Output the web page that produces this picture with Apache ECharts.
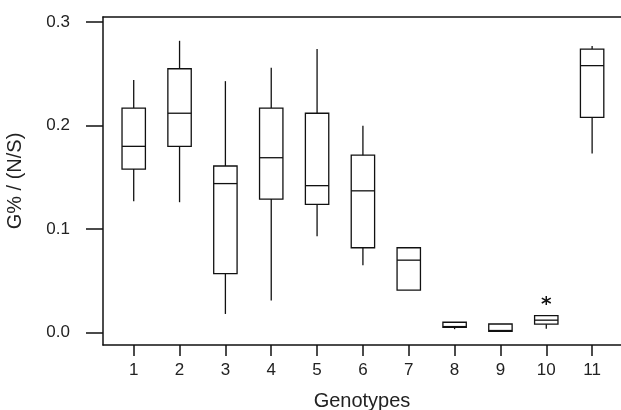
<!DOCTYPE html>
<html>
<head>
<meta charset="utf-8">
<script src="https://cdn.jsdelivr.net/npm/echarts@6/dist/echarts.min.js"></script>
<style>html,body{margin:0;padding:0;background:#fff;}#c{width:621px;height:410px;}</style>
</head>
<body>
<div id="c"></div>
<script>
var categories = [1, 2, 3, 4, 5, 6, 7, 8, 9, 10, 11];
var mins    = [0.127, 0.126, 0.018, 0.031, 0.093, 0.065, 0.041, 0.0033, 0.0013, 0.0036, 0.173];
var q1s     = [0.158, 0.180, 0.057, 0.129, 0.124, 0.082, 0.041, 0.0050, 0.0013, 0.0081, 0.208];
var medians = [0.180, 0.212, 0.144, 0.169, 0.142, 0.137, 0.070, 0.0058, 0.0020, 0.0120, 0.258];
var q3s     = [0.217, 0.255, 0.161, 0.217, 0.212, 0.1715, 0.082, 0.0100, 0.0083, 0.0164, 0.274];
var maxs    = [0.244, 0.282, 0.243, 0.256, 0.274, 0.200, 0.082, 0.0100, 0.0083, 0.0164, 0.277];
var outlierCats = [10];
var outlierVals = [0.031];
var yTicks = [0.0, 0.1, 0.2, 0.3];

var boxData = categories.map(function (c, i) {
  return [c, mins[i], q1s[i], medians[i], q3s[i], maxs[i]];
});
var outData = outlierCats.map(function (c, i) { return [c, outlierVals[i]]; });

var BOXW = 0.51;
var lineStyle = { stroke: '#111', lineWidth: 1.3 };

function renderBox(params, api) {
  var x = api.value(0);
  var pMin = api.coord([x, api.value(1)]);
  var pQ1 = api.coord([x, api.value(2)]);
  var pMed = api.coord([x, api.value(3)]);
  var pQ3 = api.coord([x, api.value(4)]);
  var pMax = api.coord([x, api.value(5)]);
  var half = api.size([BOXW, 0])[0] / 2;
  var cx = pMed[0];
  var children = [];
  if (pMax[1] < pQ3[1] - 0.5) {
    children.push({ type: 'line', shape: { x1: cx, y1: pMax[1], x2: cx, y2: pQ3[1] }, style: lineStyle });
  }
  if (pMin[1] > pQ1[1] + 0.5) {
    children.push({ type: 'line', shape: { x1: cx, y1: pQ1[1], x2: cx, y2: pMin[1] }, style: lineStyle });
  }
  children.push({ type: 'rect', shape: { x: cx - half, y: pQ3[1], width: half * 2, height: pQ1[1] - pQ3[1] },
    style: { fill: 'none', stroke: '#111', lineWidth: 1.3 } });
  children.push({ type: 'line', shape: { x1: cx - half, y1: pMed[1], x2: cx + half, y2: pMed[1] }, style: lineStyle });
  return { type: 'group', children: children };
}

function renderStar(params, api) {
  var p = api.coord([api.value(0), api.value(1)]);
  var r = 4.5;
  var st = { stroke: '#111', lineWidth: 1.5 };
  return { type: 'group', children: [
    { type: 'line', shape: { x1: p[0], y1: p[1] - r, x2: p[0], y2: p[1] + r }, style: st },
    { type: 'line', shape: { x1: p[0] - r, y1: p[1] - r * 0.55, x2: p[0] + r, y2: p[1] + r * 0.55 }, style: st },
    { type: 'line', shape: { x1: p[0] - r, y1: p[1] + r * 0.55, x2: p[0] + r, y2: p[1] - r * 0.55 }, style: st }
  ]};
}

var chart = echarts.init(document.getElementById('c'), null, { renderer: 'canvas' });
chart.setOption({
  animation: false,
  backgroundColor: '#fff',
  grid: { left: 103, top: 17, right: 0, bottom: 65, containLabel: false, outerBoundsMode: 'none' },
  xAxis: [{
    type: 'value', min: 0.33, max: 11.63, position: 'bottom',
    name: 'Genotypes', nameLocation: 'middle', nameGap: 46,
    nameTextStyle: { fontFamily: 'Liberation Sans', fontSize: 20, color: '#222' },
    splitLine: { show: false },
    axisLine: { show: true, onZero: false, lineStyle: { color: '#111', width: 1.5 } },
    axisTick: { show: true, length: 11, inside: false, customValues: categories, lineStyle: { color: '#111', width: 1.5 } },
    axisLabel: { show: true, margin: 17, customValues: categories, fontFamily: 'Liberation Sans', fontSize: 17, color: '#222',
      formatter: function (v) { return String(Math.round(v)); } }
  }, {
    type: 'value', min: 0.33, max: 11.63, position: 'top',
    splitLine: { show: false },
    axisLine: { show: true, onZero: false, lineStyle: { color: '#111', width: 1.5 } },
    axisTick: { show: false }, axisLabel: { show: false }
  }],
  yAxis: {
    type: 'value', min: -0.012, max: 0.305,
    name: 'G% / (N/S)', nameLocation: 'middle', nameGap: 78,
    nameTextStyle: { fontFamily: 'Liberation Sans', fontSize: 20, color: '#222' },
    splitLine: { show: false },
    axisLine: { show: true, onZero: false, lineStyle: { color: '#111', width: 1.5 } },
    axisTick: { show: true, length: 17, customValues: yTicks, lineStyle: { color: '#111', width: 1.5 } },
    axisLabel: { show: true, margin: 33, customValues: yTicks, fontFamily: 'Liberation Sans', fontSize: 17, color: '#222',
      formatter: function (v) { return v.toFixed(1); } }
  },
  series: [{
    type: 'custom', xAxisIndex: 0, renderItem: renderBox, data: boxData,
    encode: { x: 0, y: [1, 2, 3, 4, 5] }, clip: false
  }, {
    type: 'custom', xAxisIndex: 0, renderItem: renderStar, data: outData,
    encode: { x: 0, y: 1 }
  }]
});
</script>
</body>
</html>
